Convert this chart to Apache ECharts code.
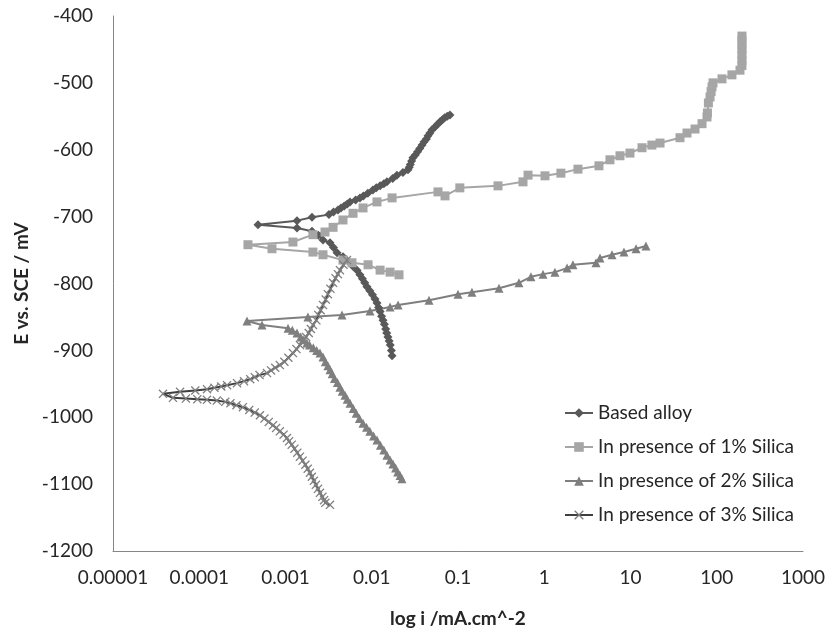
<!DOCTYPE html>
<html>
<head>
<meta charset="utf-8">
<script src="https://cdn.jsdelivr.net/npm/echarts@6/dist/echarts.min.js"></script>
<style>
html,body{margin:0;padding:0;background:#fff;}
#chart{width:829px;height:637px;}
</style>
</head>
<body>
<div id="chart"></div>
<script>
// ---- data (current density i in mA/cm^2, potential E in mV vs SCE) ----
const seriesNames = ['Based alloy', 'In presence of 1% Silica', 'In presence of 2% Silica', 'In presence of 3% Silica'];
const xTickLabels = ['0.00001', '0.0001', '0.001', '0.01', '0.1', '1', '10', '100', '1000'];
const yTicks = [-1200, -1100, -1000, -900, -800, -700, -600, -500, -400];

const baseI = [0.0172, 0.0169, 0.0164, 0.0159, 0.0154, 0.0149, 0.0145, 0.0140, 0.0135, 0.0130, 0.0125, 0.0120, 0.0115, 0.0109, 0.0102, 0.0095, 0.0088, 0.0083, 0.0078, 0.0073, 0.00675, 0.0060, 0.0056, 0.0050, 0.00464, 0.00396, 0.0036, 0.00328, 0.00272, 0.0024, 0.00203, 0.00136, 0.00048,
  0.00136, 0.00203, 0.00319, 0.0036, 0.00406, 0.0044, 0.0048, 0.0052, 0.0056, 0.0065, 0.0073, 0.0080, 0.0090, 0.0103, 0.0113, 0.0125, 0.0138, 0.0150, 0.0175, 0.0196, 0.0230, 0.0263, 0.0272, 0.0280, 0.0290, 0.030, 0.032, 0.034, 0.036, 0.0383, 0.0405, 0.043, 0.045, 0.0473, 0.050, 0.054, 0.058, 0.0618, 0.066, 0.070, 0.075, 0.0807];
const baseE = [-908, -900, -892, -886, -880, -874, -868, -861, -855, -849, -842, -836, -829, -823, -817, -811, -805, -799, -793, -787, -780, -774, -769, -764, -760, -754, -746, -739, -735, -728, -722, -717, -712,
  -706, -701, -697, -693, -690, -687, -684, -681, -678, -675, -672, -669, -665, -660, -657, -654, -651, -648, -643, -638, -634, -630, -626, -622, -617, -612, -608, -603, -598, -593, -588, -584, -579, -575, -570, -566, -562, -558, -555, -552, -550, -548];

const s1I = [0.0207, 0.0163, 0.0125, 0.00906, 0.0059, 0.00464, 0.00272, 0.00208, 0.000697, 0.000367, 0.00122, 0.00208, 0.00287, 0.00356, 0.00464, 0.00607, 0.00792, 0.0115, 0.0172, 0.0586, 0.0707, 0.105, 0.291, 0.567, 0.649, 1.02, 1.56, 2.46, 4.31, 5.78, 7.55, 9.86, 13.6, 17.7, 22.0, 37.5, 45.2, 56.0, 67.5, 77.1, 78.0, 80.0, 83.6, 86.0, 88.1, 90.5, 115, 150, 186, 196, 196, 196, 196, 196, 196, 196];
const s1E = [-787, -783, -780, -772, -769, -765, -757, -753, -748, -742, -738, -727, -723, -716, -705, -695, -687, -678, -672, -663, -669, -657, -654, -648, -638, -639, -635, -629, -624, -615, -609, -605, -597, -593, -590, -582, -575, -569, -561, -551, -545, -530, -521, -513, -506, -500, -494, -488, -481, -474, -466, -458, -450, -443, -436, -430];

const s2I = [0.0224, 0.0213, 0.0200, 0.0189, 0.0176, 0.0163, 0.0150, 0.0138, 0.0126, 0.0115, 0.0105, 0.0095, 0.0087, 0.00792, 0.0072, 0.0066, 0.0061, 0.0056, 0.0052, 0.0049, 0.00455, 0.00428, 0.0040, 0.0037, 0.00348, 0.00328, 0.0031, 0.0029, 0.00272, 0.00251, 0.0023, 0.0021, 0.0019, 0.00177, 0.0016, 0.0015, 0.00136, 0.0012, 0.00107, 0.000534, 0.000358,
  0.00182, 0.00452, 0.00955, 0.0163, 0.0202, 0.0461, 0.1, 0.145, 0.299, 0.509, 0.701, 0.968, 1.33, 1.84, 2.15, 3.98, 4.43, 6.1, 8.4, 11.6, 15.1];
const s2E = [-1092, -1087, -1082, -1076, -1070, -1064, -1057, -1049, -1042, -1034, -1028, -1021, -1015, -1009, -1002, -994, -987, -979, -973, -967, -961, -955, -948, -942, -935, -929, -923, -917, -910, -904, -900, -896, -892, -889, -884, -880, -874, -870, -867, -862, -856,
  -850, -847, -841, -835, -832, -825, -816, -813, -807, -799, -790, -786, -783, -777, -772, -769, -762, -757, -753, -748, -744];

const s3I = [0.00328, 0.00290, 0.00280, 0.00268, 0.00251, 0.00238, 0.00225, 0.00213, 0.00202, 0.00192, 0.00181, 0.00170, 0.00158, 0.00147, 0.00137, 0.00127, 0.00118, 0.00110, 0.00104, 0.00095, 0.00086, 0.00078, 0.000716, 0.00064, 0.00057, 0.000506, 0.00044, 0.00038, 0.000321, 0.00027, 0.00023, 0.00020, 0.00016, 0.000123, 0.000095, 0.00007, 0.0000496, 0.000038,
  0.00006, 0.00009, 0.000123, 0.00015, 0.00018, 0.00021, 0.000274, 0.00033, 0.00039, 0.00044, 0.00050, 0.00061, 0.00068, 0.00076, 0.00086, 0.00097, 0.00108, 0.00122, 0.00134, 0.00147, 0.0016, 0.00173, 0.00186, 0.00197, 0.00208, 0.00228, 0.0024, 0.00256, 0.00272, 0.00293, 0.0031, 0.00332, 0.00356, 0.0038, 0.00405, 0.00428, 0.0047, 0.00516];
const s3E = [-1131, -1128, -1124, -1119, -1113, -1107, -1101, -1095, -1089, -1083, -1077, -1071, -1065, -1059, -1053, -1047, -1041, -1036, -1031, -1026, -1021, -1016, -1012, -1007, -1002, -997, -993, -989, -985, -982, -979, -977, -975, -974, -973, -972, -971, -965,
  -962, -960, -958, -956, -954, -952, -949, -946, -943, -940, -937, -934, -930, -926, -922, -917, -911, -904, -898, -892, -886, -880, -874, -868, -862, -855, -847, -840, -832, -824, -816, -808, -799, -792, -786, -780, -772, -765];

// ---- build ----
function pairs(xs, ys) { return xs.map((x, k) => [x, ys[k]]); }
const crossPath = 'path://M0,1L1,0L5,4L9,0L10,1L6,5L10,9L9,10L5,6L1,10L0,9L4,5Z';
const FONT = 'Lato, "Open Sans", sans-serif';

const chart = echarts.init(document.getElementById('chart'), null, { renderer: 'canvas' });
chart.setOption({
  animation: false,
  backgroundColor: '#ffffff',
  grid: { left: 113, right: 26, top: 16, bottom: 86 },
  xAxis: {
    type: 'log', logBase: 10, min: 0.00001, max: 1000,
    name: 'log i /mA.cm^-2', nameLocation: 'middle', nameGap: 58,
    nameTextStyle: { fontFamily: FONT, fontSize: 19, fontWeight: 'bold', color: '#262626' },
    axisLine: { lineStyle: { color: '#868686', width: 1 } },
    axisTick: { show: false },
    splitLine: { show: false },
    axisLabel: {
      margin: 17, fontFamily: FONT, fontSize: 19, color: '#262626',
      showMinLabel: true, showMaxLabel: true,
      formatter: function (v) { const k = Math.round(Math.log10(v)) + 5; return xTickLabels[k] || ''; }
    }
  },
  yAxis: {
    type: 'value', min: yTicks[0], max: yTicks[yTicks.length - 1], interval: 100,
    name: 'E vs. SCE / mV', nameLocation: 'middle', nameGap: 77, nameRotate: 90,
    nameTextStyle: { fontFamily: FONT, fontSize: 19, fontWeight: 'bold', color: '#262626' },
    axisLine: { show: true, lineStyle: { color: '#868686', width: 1 } },
    axisTick: { show: false },
    splitLine: { show: false },
    axisLabel: { margin: 20, fontFamily: FONT, fontSize: 19, color: '#262626', formatter: function (v) { return String(v); } }
  },
  legend: {
    orient: 'vertical', left: 559, top: 398,
    itemWidth: 28, itemHeight: 12, itemGap: 14,
    textStyle: { fontFamily: FONT, fontSize: 19, lineHeight: 20, color: '#262626' },
    data: seriesNames
  },
  series: [
    {
      name: seriesNames[0], type: 'line', data: pairs(baseI, baseE),
      symbol: 'diamond', symbolSize: 9,
      lineStyle: { color: '#595959', width: 2 },
      itemStyle: { color: '#595959' }
    },
    {
      name: seriesNames[1], type: 'line', data: pairs(s1I, s1E),
      symbol: 'rect', symbolSize: 9,
      lineStyle: { color: '#a6a6a6', width: 2 },
      itemStyle: { color: '#a6a6a6' }
    },
    {
      name: seriesNames[2], type: 'line', data: pairs(s2I, s2E),
      symbol: 'triangle', symbolSize: 9,
      lineStyle: { color: '#7f7f7f', width: 2 },
      itemStyle: { color: '#7f7f7f' }
    },
    {
      name: seriesNames[3], type: 'line', data: pairs(s3I, s3E),
      symbol: crossPath, symbolSize: 9,
      lineStyle: { color: '#3f3f3f', width: 2 },
      itemStyle: { color: '#7f7f7f' }
    }
  ]
});
</script>
</body>
</html>
